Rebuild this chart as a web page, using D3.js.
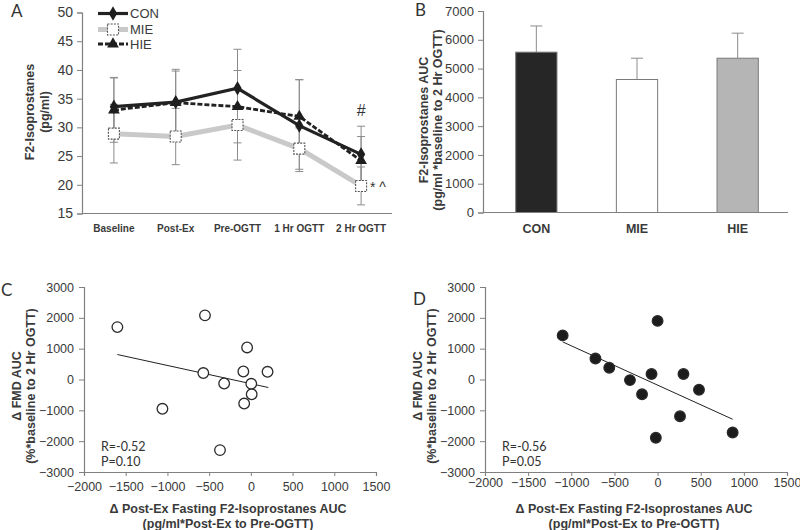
<!DOCTYPE html>
<html><head><meta charset="utf-8">
<script src="https://cdn.jsdelivr.net/npm/d3@7/dist/d3.min.js"></script>
<style>
body{margin:0;background:#fff;}
svg{display:block;font-family:"Liberation Sans",Arial,sans-serif;}
</style></head>
<body><svg id="c" width="800" height="530"></svg>
<script>
// ---------- Data ----------
const categoriesA = ["Baseline", "Post-Ex", "Pre-OGTT", "1 Hr OGTT", "2 Hr OGTT"];
const conMean = [33.6, 34.4, 36.8, 30.3, 25.3];
const conSD   = [5.1, 5.7, 6.8, 8.0, 4.9];
const mieMean = [28.9, 28.4, 30.4, 26.3, 19.8];
const mieSD   = [5.1, 4.9, 6.1, 3.6, 3.3];
const hieMean = [33.0, 34.3, 33.6, 31.9, 24.2];
const hieSD   = [5.6, 5.5, 6.3, 6.4, 4.2];
const ticksA = [15, 20, 25, 30, 35, 40, 45, 50];

const groupsB = ["CON", "MIE", "HIE"];
const aucMean = [5570, 4620, 5360];
const aucSD   = [910, 740, 870];
const ticksB = [0, 1000, 2000, 3000, 4000, 5000, 6000, 7000];

const xC = [-1600, -550, -45, -570, -90, 200, -320, 5, 10, -80, -1060, -370];
const yC = [1700, 2080, 1040, 210, 260, 250, -130, -140, -480, -780, -950, -2290];
const lineC = [[-1600, 810], [210, -260]];
const statsC = ["R=-0.52", "P=0.10"];

const xD = [-1100, 0, -720, -560, -320, -70, 300, 480, -180, 260, -20, 870];
const yD = [1430, 1900, 680, 380, -20, 180, 180, -330, -480, -1190, -1890, -1720];
const lineD = [[-1100, 1220], [870, -1290]];
const statsD = ["R=-0.56", "P=0.05"];

const ticksScX = [-2000, -1500, -1000, -500, 0, 500, 1000, 1500];
const ticksScY = [-3000, -2000, -1000, 0, 1000, 2000, 3000];

const svg = d3.select("#c");
const AX = "#808080", TXT = "#3a3a3a";
const FONT = "'Liberation Sans', Arial, sans-serif";
const fmt = d3.format("d");

function styleAxis(g, fs) {
  g.attr("font-family", FONT);
  g.select(".domain").attr("stroke", AX).attr("stroke-width", 1.2);
  g.selectAll(".tick line").attr("stroke", AX);
  g.selectAll(".tick text").attr("font-size", fs).attr("fill", TXT);
}
function panelLabel(t, x, y) {
  svg.append("text").attr("x", x).attr("y", y).text(t)
    .attr("font-family", "Lato, 'Open Sans', sans-serif").attr("font-size", 17).attr("fill", "#333");
}
function yTitle(lines, cx, cy) {
  lines.forEach((l, i) => {
    svg.append("text").attr("transform", `translate(${cx[i]},${cy}) rotate(-90)`)
      .attr("text-anchor", "middle").attr("dominant-baseline", "central")
      .attr("font-size", 12.5).attr("font-weight", "bold").attr("fill", TXT).text(l);
  });
}

// ---------- Panel A ----------
(function () {
  const x = d3.scaleBand().domain(categoriesA).range([83, 392]);
  const y = d3.scaleLinear().domain([15, 50]).range([213.5, 12.5]);
  const cx = d => x(d) + x.bandwidth() / 2;
  const gy = svg.append("g").attr("transform", "translate(82,0)")
    .call(d3.axisLeft(y).tickValues(ticksA).tickFormat(fmt).tickSize(5).tickPadding(4));
  styleAxis(gy, 14);
  svg.append("line").attr("x1", 82).attr("x2", 392).attr("y1", y(15)).attr("y2", y(15))
    .attr("stroke", AX).attr("stroke-width", 1.2);
  svg.selectAll(".catA").data(categoriesA).join("text")
    .attr("x", d => cx(d)).attr("y", 231.5).attr("text-anchor", "middle")
    .attr("font-size", 10).attr("font-weight", "bold").attr("fill", TXT).text(d => d);

  const series = [
    {name: "CON", m: conMean, s: conSD},
    {name: "MIE", m: mieMean, s: mieSD},
    {name: "HIE", m: hieMean, s: hieSD}
  ];
  series.forEach(se => {
    const g = svg.append("g").attr("stroke", "#8c8c8c").attr("stroke-width", 1);
    categoriesA.forEach((c, i) => {
      const lo = y(se.m[i] - se.s[i]), hi = y(se.m[i] + se.s[i]), X = cx(c);
      g.append("line").attr("x1", X).attr("x2", X).attr("y1", lo).attr("y2", hi);
      g.append("line").attr("x1", X - 4).attr("x2", X + 4).attr("y1", lo).attr("y2", lo);
      g.append("line").attr("x1", X - 4).attr("x2", X + 4).attr("y1", hi).attr("y2", hi);
    });
  });
  const line = d3.line().x((d, i) => cx(categoriesA[i])).y(d => y(d));
  svg.append("path").attr("d", line(mieMean)).attr("fill", "none").attr("stroke", "#c9c9c9").attr("stroke-width", 5);
  svg.append("path").attr("d", line(conMean)).attr("fill", "none").attr("stroke", "#222").attr("stroke-width", 3.2);
  svg.append("path").attr("d", line(hieMean)).attr("fill", "none").attr("stroke", "#222").attr("stroke-width", 2.8).attr("stroke-dasharray", "5,2");

  const diamond = d3.symbol().type(d3.symbolDiamond).size(60);
  const tri = d3.symbol().type(d3.symbolTriangle).size(60);
  function drawCon(X, Y) { svg.append("path").attr("d", diamond()).attr("transform", `translate(${X},${Y})`).attr("fill", "#1e1e1e"); }
  function drawHie(X, Y) { svg.append("path").attr("d", tri()).attr("transform", `translate(${X},${Y})`).attr("fill", "#1e1e1e"); }
  function drawMie(X, Y) {
    svg.append("rect").attr("x", X - 5.5).attr("y", Y - 5.5).attr("width", 11).attr("height", 11)
      .attr("fill", "#fff").attr("stroke", "#555").attr("stroke-width", 1.1).attr("stroke-dasharray", "2,1.2");
  }
  categoriesA.forEach((c, i) => drawMie(cx(c), y(mieMean[i])));
  categoriesA.forEach((c, i) => drawCon(cx(c), y(conMean[i])));
  categoriesA.forEach((c, i) => drawHie(cx(c), y(hieMean[i])));

  const leg = [{n: "CON", y: 13.5}, {n: "MIE", y: 29.5}, {n: "HIE", y: 44}];
  svg.append("line").attr("x1", 98).attr("x2", 128).attr("y1", leg[1].y).attr("y2", leg[1].y).attr("stroke", "#c9c9c9").attr("stroke-width", 5);
  drawMie(113, leg[1].y);
  svg.append("line").attr("x1", 98).attr("x2", 128).attr("y1", leg[0].y).attr("y2", leg[0].y).attr("stroke", "#222").attr("stroke-width", 3.2);
  drawCon(113, leg[0].y);
  svg.append("line").attr("x1", 98).attr("x2", 128).attr("y1", leg[2].y).attr("y2", leg[2].y).attr("stroke", "#222").attr("stroke-width", 2.8).attr("stroke-dasharray", "5,2");
  drawHie(113, leg[2].y);
  leg.forEach(l => svg.append("text").attr("x", 130).attr("y", l.y).attr("dominant-baseline", "central")
    .attr("font-size", 13).attr("fill", TXT).text(l.n));

  svg.append("text").attr("x", cx(categoriesA[4])).attr("y", 110).attr("text-anchor", "middle").attr("dominant-baseline", "central")
    .attr("font-size", 16).attr("fill", "#333").text("#");
  svg.append("text").attr("x", 370).attr("y", 187).attr("dominant-baseline", "central")
    .attr("font-size", 14).attr("fill", "#333").text("* ^");

  yTitle(["F2-Isoprostanes", "(pg/ml)"], [30, 45], 112);
  panelLabel("A", 11, 17);
})();

// ---------- Panel B ----------
(function () {
  const x = d3.scaleBand().domain(groupsB).range([486, 788]).paddingInner(0.59).paddingOuter(0.295);
  const y = d3.scaleLinear().domain([0, 7000]).range([212.5, 11]);
  const gy = svg.append("g").attr("transform", "translate(483,0)")
    .call(d3.axisLeft(y).tickValues(ticksB).tickFormat(fmt).tickSize(5).tickPadding(4));
  styleAxis(gy, 13);
  const fills = ["#262626", "#ffffff", "#b5b5b5"];
  groupsB.forEach((g, i) => {
    const X = x(g) + x.bandwidth() / 2;
    svg.append("line").attr("x1", X).attr("x2", X).attr("y1", y(aucMean[i])).attr("y2", y(aucMean[i] + aucSD[i])).attr("stroke", "#8c8c8c");
    svg.append("line").attr("x1", X - 6).attr("x2", X + 6).attr("y1", y(aucMean[i] + aucSD[i])).attr("y2", y(aucMean[i] + aucSD[i])).attr("stroke", "#8c8c8c");
  });
  svg.selectAll(".barB").data(groupsB).join("rect")
    .attr("x", d => x(d)).attr("width", x.bandwidth())
    .attr("y", (d, i) => y(aucMean[i])).attr("height", (d, i) => y(0) - y(aucMean[i]))
    .attr("fill", (d, i) => fills[i]).attr("stroke", "#7a7a7a").attr("stroke-width", 1);
  svg.append("line").attr("x1", 483).attr("x2", 788).attr("y1", y(0)).attr("y2", y(0)).attr("stroke", AX).attr("stroke-width", 1.2);
  svg.selectAll(".catB").data(groupsB).join("text")
    .attr("x", d => x(d) + x.bandwidth() / 2).attr("y", 232.5).attr("text-anchor", "middle")
    .attr("font-size", 12.5).attr("font-weight", "bold").attr("fill", TXT).text(d => d);
  yTitle(["F2-Isoprostanes AUC", "(pg/ml *baseline to 2 Hr OGTT)"], [424, 438], 120);
  panelLabel("B", 415, 16);
})();

// ---------- Scatter panels ----------
function scatter(xs, ys, ln, stats, x0, x1, filled, label, labX, labY, tickPad) {
  const x = d3.scaleLinear().domain([-2000, 1500]).range([x0, x1]);
  const y = d3.scaleLinear().domain([-3000, 3000]).range([472, 287]);
  const gy = svg.append("g").attr("transform", `translate(${x0},0)`)
    .call(d3.axisLeft(y).tickValues(ticksScY).tickFormat(fmt).tickSize(5).tickPadding(5));
  styleAxis(gy, 12.5);
  const gx = svg.append("g").attr("transform", "translate(0,472)")
    .call(d3.axisBottom(x).tickValues(ticksScX).tickFormat(fmt).tickSize(4).tickPadding(tickPad));
  styleAxis(gx, 12.5);
  svg.append("line").attr("x1", x(ln[0][0])).attr("y1", y(ln[0][1])).attr("x2", x(ln[1][0])).attr("y2", y(ln[1][1]))
    .attr("stroke", "#222").attr("stroke-width", 1);
  xs.forEach((v, i) => {
    svg.append("circle").attr("cx", x(v)).attr("cy", y(ys[i])).attr("r", 5.3)
      .attr("fill", filled ? "#1c1c1c" : "#fff").attr("stroke", "#2a2a2a").attr("stroke-width", 1.3);
  });
  stats.forEach((s, i) => svg.append("text").attr("x", x0 + 17).attr("y", 446 + i * 15).attr("dominant-baseline", "central")
    .attr("font-family", "Lato, 'Open Sans', sans-serif").attr("font-size", 12.5).attr("fill", "#333").text(s));
  const mx = (x0 + x1) / 2 - 2;
  svg.append("text").attr("x", mx).attr("y", 509).attr("text-anchor", "middle").attr("dominant-baseline", "central")
    .attr("font-size", 12.5).attr("font-weight", "bold").attr("fill", TXT).text("Δ Post-Ex Fasting F2-Isoprostanes AUC");
  svg.append("text").attr("x", mx).attr("y", 524).attr("text-anchor", "middle").attr("dominant-baseline", "central")
    .attr("font-size", 12.5).attr("font-weight", "bold").attr("fill", TXT).text("(pg/ml*Post-Ex to Pre-OGTT)");
  yTitle(["Δ FMD AUC", "(%*baseline to 2 Hr OGTT)"], [x0 - 67, x0 - 53], 386);
  panelLabel(label, labX, labY);
}
scatter(xC, yC, lineC, statsC, 84, 376, false, "C", 1, 296, 6);
scatter(xD, yD, lineD, statsD, 485, 787, true, "D", 413, 305, 2);
</script></body></html>
